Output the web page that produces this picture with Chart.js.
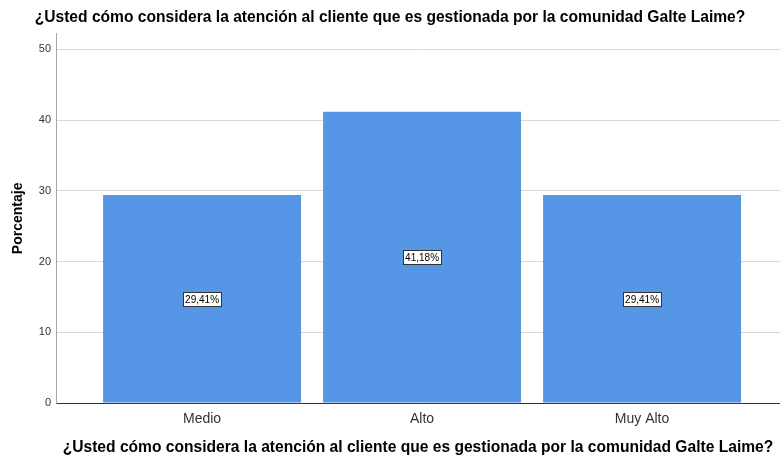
<!DOCTYPE html>
<html>
<head>
<meta charset="utf-8">
<script src="https://cdn.jsdelivr.net/npm/chart.js@4"></script>
<style>
  html, body { margin: 0; padding: 0; background: #fff; }
  #wrap { width: 780px; height: 457px; }
</style>
</head>
<body>
<div id="wrap"><canvas id="chart"></canvas></div>
<script>
// datos del gráfico
var categorias = ["Medio", "Alto", "Muy Alto"];
var porcentajes = [29.41, 41.18, 29.41];
var etiquetas = ["29,41%", "41,18%", "29,41%"];
var ticksY = [0, 10, 20, 30, 40, 50];
var titulo = "¿Usted cómo considera la atención al cliente que es gestionada por la comunidad Galte Laime?";

var puntos = [];
for (let i = 0; i < porcentajes.length; i++) {
	puntos.push({ x: i, y: porcentajes[i] });
}

// etiquetas en caja blanca dentro de cada barra
var cajaEtiquetas = {
	id: "cajaEtiquetas",
	afterDatasetsDraw: function(chart) {
		var ctx = chart.ctx;
		var meta = chart.getDatasetMeta(0);
		var y = chart.scales.y;
		ctx.save();
		ctx.font = "10px 'Liberation Sans', Arial, sans-serif";
		ctx.textAlign = "center";
		ctx.textBaseline = "middle";
		for (let i = 0; i < meta.data.length; i++) {
			var px = meta.data[i].x;
			var py = y.getPixelForValue(porcentajes[i] / 2);
			var w = ctx.measureText(etiquetas[i]).width + 4;
			var h = 14;
			var bx = Math.round(px - w / 2) + 0.5;
			var by = Math.round(py - h / 2) + 0.5;
			ctx.fillStyle = "#ffffff";
			ctx.fillRect(bx, by, Math.round(w), h);
			ctx.strokeStyle = "#333333";
			ctx.lineWidth = 1;
			ctx.strokeRect(bx, by, Math.round(w), h);
			ctx.fillStyle = "#000000";
			ctx.fillText(etiquetas[i], px, py + 1);
		}
		ctx.restore();
	}
};

var ctx = document.getElementById("chart").getContext("2d");
new Chart(ctx, {
	type: "bar",
	data: {
		datasets: [{
			data: puntos,
			backgroundColor: "#5596e6",
			borderWidth: 0,
			barPercentage: 0.9,
			categoryPercentage: 1.0
		}]
	},
	options: {
		responsive: true,
		maintainAspectRatio: false,
		animation: false,
		layout: { padding: 0 },
		plugins: {
			legend: { display: false },
			tooltip: { enabled: false },
			title: {
				display: true,
				text: titulo,
				color: "#000",
				padding: { top: 8, bottom: 7 },
				font: { size: 15.6, weight: "bold", family: "'Liberation Sans', Arial, sans-serif" }
			}
		},
		scales: {
			x: {
				type: "linear",
				offset: false,
				min: -0.664,
				max: 2.627,
				afterBuildTicks: function(scale) {
					scale.ticks = categorias.map(function(c, i) { return { value: i }; });
				},
				afterFit: function(scale) { scale.height = 54; },
				grid: { display: false, drawTicks: false },
				border: { display: true, color: "#333333", width: 1 },
				ticks: {
					callback: function(v) { return categorias[v]; },
					color: "#333",
					padding: 8,
					maxRotation: 0,
					font: { size: 14, family: "'Liberation Sans', Arial, sans-serif" }
				},
				title: {
					display: true,
					text: titulo,
					color: "#000",
					padding: { top: 13, bottom: 0 },
					font: { size: 15.6, weight: "bold", family: "'Liberation Sans', Arial, sans-serif" }
				}
			},
			y: {
				min: 0,
				max: 52.2,
				afterBuildTicks: function(scale) {
					scale.ticks = ticksY.map(function(v) { return { value: v }; });
				},
				afterFit: function(scale) { scale.width = 56; },
				grid: { color: "#d9d9d9", drawTicks: false },
				border: { display: true, color: "#a6a6a6", width: 1 },
				ticks: {
					color: "#333",
					padding: 5,
					font: { size: 11, family: "'Liberation Sans', Arial, sans-serif" }
				},
				title: {
					display: true,
					text: "Porcentaje",
					color: "#000",
					padding: { top: 10, bottom: 0 },
					font: { size: 14, weight: "bold", family: "'Liberation Sans', Arial, sans-serif" }
				}
			}
		}
	},
	plugins: [cajaEtiquetas]
});
</script>
</body>
</html>
